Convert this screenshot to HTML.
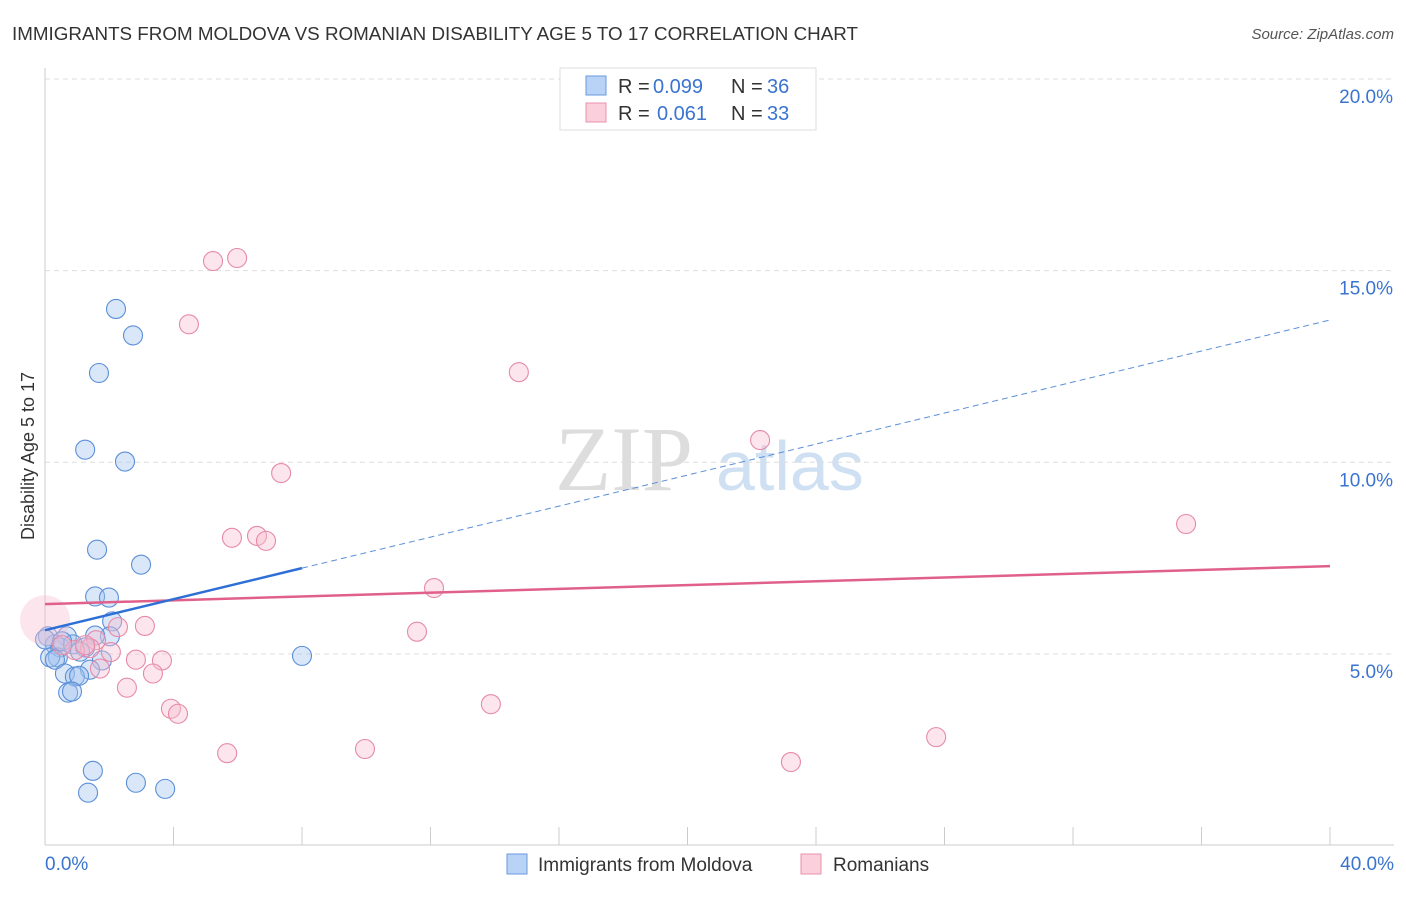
<!DOCTYPE html>
<html><head><meta charset="utf-8"><style>
body{margin:0;background:#fff;font-family:"Liberation Sans",sans-serif}
</style></head><body>
<svg id="c" width="1406" height="892" xmlns="http://www.w3.org/2000/svg" font-family="Liberation Sans, sans-serif">
<text x="12" y="40" font-size="18" fill="#333" textLength="846" lengthAdjust="spacingAndGlyphs">IMMIGRANTS FROM MOLDOVA VS ROMANIAN DISABILITY AGE 5 TO 17 CORRELATION CHART</text>
<text x="1394" y="39" font-size="15" fill="#555" text-anchor="end" font-style="italic">Source: ZipAtlas.com</text>
<text x="555" y="490" font-size="92" fill="#ddd" font-family="Liberation Serif, serif">ZIP</text>
<text x="716" y="490" font-size="70" fill="#cfe0f3">atlas</text>
<text transform="translate(34,456) rotate(-90)" font-size="18" fill="#333" text-anchor="middle">Disability Age 5 to 17</text>
<g id="grid"></g><g id="marks"></g>
<g>
<rect x="560" y="68" width="256" height="62" fill="#fff" stroke="#ddd"/>
<rect x="586" y="76" width="20" height="19" fill="#b8d3f5" stroke="#6a9ae0"/>
<rect x="586" y="103" width="20" height="19" fill="#fbcfdc" stroke="#e890ab"/>
<text x="618" y="93" font-size="20" fill="#333">R =</text>
<text x="653" y="93" font-size="20" fill="#3a74d0">0.099</text>
<text x="731" y="93" font-size="20" fill="#333">N =</text>
<text x="767" y="93" font-size="20" fill="#3a74d0">36</text>
<text x="618" y="120" font-size="20" fill="#333">R =</text>
<text x="657" y="120" font-size="20" fill="#3a74d0">0.061</text>
<text x="731" y="120" font-size="20" fill="#333">N =</text>
<text x="767" y="120" font-size="20" fill="#3a74d0">33</text>
</g>
<g>
<rect x="507" y="854" width="20" height="20" fill="#b8d3f5" stroke="#6a9ae0"/>
<text x="538" y="871" font-size="19" fill="#333">Immigrants from Moldova</text>
<rect x="801" y="854" width="20" height="20" fill="#fbcfdc" stroke="#e890ab"/>
<text x="833" y="871" font-size="19" fill="#333">Romanians</text>
</g>
</svg>
<script>
const xTicks=[0,4,8,12,16,20,24,28,32,36,40];
const yTicks=[5,10,15,20];
const blueX=[2.21,2.74,1.68,1.25,2.49,1.62,2.99,1.56,1.99,2.09,2.02,1.56,0.68,0.09,0.31,0.47,0.87,1.25,0.40,0.16,0.31,1.77,1.40,0.62,0.93,1.06,0.72,0.84,8.0,1.49,1.34,2.83,3.74,0,1.09,0.53];
const blueY=[14.0,13.31,12.33,10.33,10.02,7.72,7.33,6.50,6.47,5.85,5.46,5.48,5.46,5.46,5.25,5.17,5.25,5.17,4.91,4.91,4.85,4.83,4.59,4.49,4.41,4.43,3.99,4.02,4.95,1.95,1.38,1.64,1.48,5.38,5.06,5.33];
const pinkX=[5.23,5.98,4.48,14.75,22.26,7.35,35.52,5.82,6.60,6.88,12.11,3.11,2.27,11.58,1.59,1.40,2.05,0.93,2.83,3.64,1.71,3.36,2.55,3.92,4.14,13.88,5.67,9.96,27.74,23.22,0,0.53,1.25];
const pinkY=[15.25,15.33,13.6,12.35,10.58,9.72,8.39,8.03,8.08,7.95,6.72,5.73,5.70,5.58,5.36,5.15,5.05,5.10,4.85,4.83,4.62,4.49,4.12,3.57,3.44,3.69,2.41,2.52,2.83,2.18,5.88,5.23,5.23];
const blueTrend=[5.62,0.2023]; // intercept, slope
const pinkTrend=[6.30,0.0248];
const X=v=>45+v*32.125, Y=v=>845.6-v*38.33;
const NS='http://www.w3.org/2000/svg';
function mk(t,a,p){const e=document.createElementNS(NS,t);for(const k in a)e.setAttribute(k,a[k]);p.appendChild(e);return e;}
const g=document.getElementById('grid'), m=document.getElementById('marks');
yTicks.forEach(v=>{
 const l=mk('line',{x1:45,x2:1394,y1:Y(v),y2:Y(v),stroke:'#ddd','stroke-dasharray':'5,4'},g);
 
 
 const t=mk('text',{x:1393,y:Y(v)+24,'font-size':19,fill:'#3a74d0','text-anchor':'end'},g);
 t.textContent=v.toFixed(1)+'%';
 
 
});
const ax=mk('line',{x1:45,x2:1394,y1:845,y2:845,stroke:'#ccc'},g);


const ay=mk('line',{x1:45,x2:45,y1:68,y2:845,stroke:'#ccc'},g);


xTicks.forEach(v=>{
 const l=mk('line',{x1:X(v),x2:X(v),y1:827,y2:845,stroke:'#ccc'},g);
 
 
});
[[0,'0.0%','start',45],[40,'40.0%','end',1394]].forEach(d=>{
 const t=mk('text',{x:d[3],y:870,'font-size':19,fill:'#3a74d0','text-anchor':d[2]},g);
 t.textContent=d[1];
 
 
});
blueX.forEach((v,i)=>{
 const c=mk('circle',{cx:X(v),cy:Y(blueY[i]),r:9.5,fill:'rgba(160,195,240,0.4)',stroke:'#5b8fd8','stroke-width':1.1},m);
 
 
});
pinkX.forEach((v,i)=>{
 const big=(i===30);
 const c=mk('circle',{cx:X(v),cy:Y(pinkY[i]),r:big?25:9.5,fill:'rgba(248,190,208,0.4)',stroke:big?'rgba(0,0,0,0)':'#e68aa8','stroke-width':1.1},m);
 
 
});
const pl=mk('line',{x1:X(0),y1:Y(pinkTrend[0]),x2:X(40),y2:Y(pinkTrend[0]+pinkTrend[1]*40),stroke:'#e0608a','stroke-width':2.5},m);


const bl=mk('line',{x1:X(0),y1:Y(blueTrend[0]),x2:X(8),y2:Y(blueTrend[0]+blueTrend[1]*8),stroke:'#2e6fd6','stroke-width':2.5},m);


const bd=mk('line',{x1:X(8),y1:Y(blueTrend[0]+blueTrend[1]*8),x2:X(40),y2:Y(blueTrend[0]+blueTrend[1]*40),stroke:'#5b8fd8','stroke-width':1,'stroke-dasharray':'6,4'},m);


</script>
</body></html>
